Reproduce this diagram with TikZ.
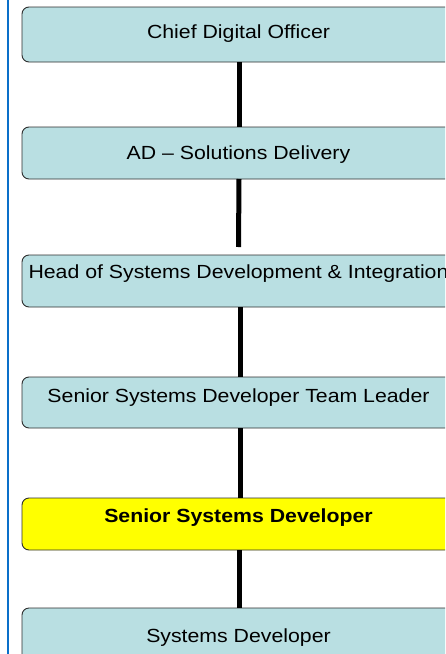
\documentclass[tikz,border=0pt]{standalone}
\usepackage{fontspec}
\usepackage{graphicx}
\setmainfont{Liberation Sans}
\definecolor{boxteal}{HTML}{B9DFE2}
\definecolor{boxyellow}{HTML}{FFFF00}
\definecolor{edgeblue}{HTML}{0A6FC9}
\definecolor{boxline}{HTML}{2E2E2E}
\newcommand{\widetext}[1]{\scalebox{1.12}[1]{#1}}
\begin{document}
\begin{tikzpicture}[x=1pt,y=-1pt,
  orgbox/.style={draw=boxline, line width=0.9pt, rounded corners=7pt, fill=boxteal,
    anchor=north west, minimum width=434pt, inner sep=0pt, outer sep=0pt},
  hibox/.style={orgbox, fill=boxyellow},
  lbl/.style={anchor=base, inner sep=0pt, font=\fontsize{19}{22}\selectfont},
  link/.style={line width=5pt, black}]
\useasboundingbox (0,0) rectangle (445,654);
\clip (0,0) rectangle (445,654);
\fill[white] (0,0) rectangle (445,654);
\draw[edgeblue, line width=2.2pt] (8,-2) -- (8,660);

\node[orgbox, minimum height=55pt] (b1) at (22,7) {};
\node[orgbox, minimum height=52pt] (b2) at (22,127) {};
\node[orgbox, minimum height=52pt] (b3) at (22,255) {};
\node[orgbox, minimum height=51pt] (b4) at (22,377) {};
\node[hibox,  minimum height=52pt] (b5) at (22,498) {};
\node[orgbox, minimum height=60pt] (b6) at (22,608) {};

\coordinate (c2end) at (238.5,247);
\draw[link] (b1.south) -- (b2.north);
\draw[link] (b2.south) -- (c2end);
\draw[link] ([xshift=1.5pt]b3.south) -- ([xshift=1.5pt]b4.north);
\draw[link] ([xshift=1.5pt]b4.south) -- ([xshift=1.5pt]b5.north);
\draw[link] (b5.south) -- (b6.north);

\node[lbl] (t1) at (238.5,38) {\widetext{Chief Digital Officer}};
\node[lbl] (t2) at (238.5,159) {\widetext{AD – Solutions Delivery}};
\node[lbl] (t3) at (238.5,278) {\widetext{Head of Systems Development \& Integration}};
\node[lbl] (t4) at (238.5,402) {\widetext{Senior Systems Developer Team Leader}};
\node[lbl] (t5) at (238.5,522) {\widetext{\bfseries Senior Systems Developer}};
\node[lbl] (t6) at (238.5,642) {\widetext{Systems Developer}};
\end{tikzpicture}
\end{document}
